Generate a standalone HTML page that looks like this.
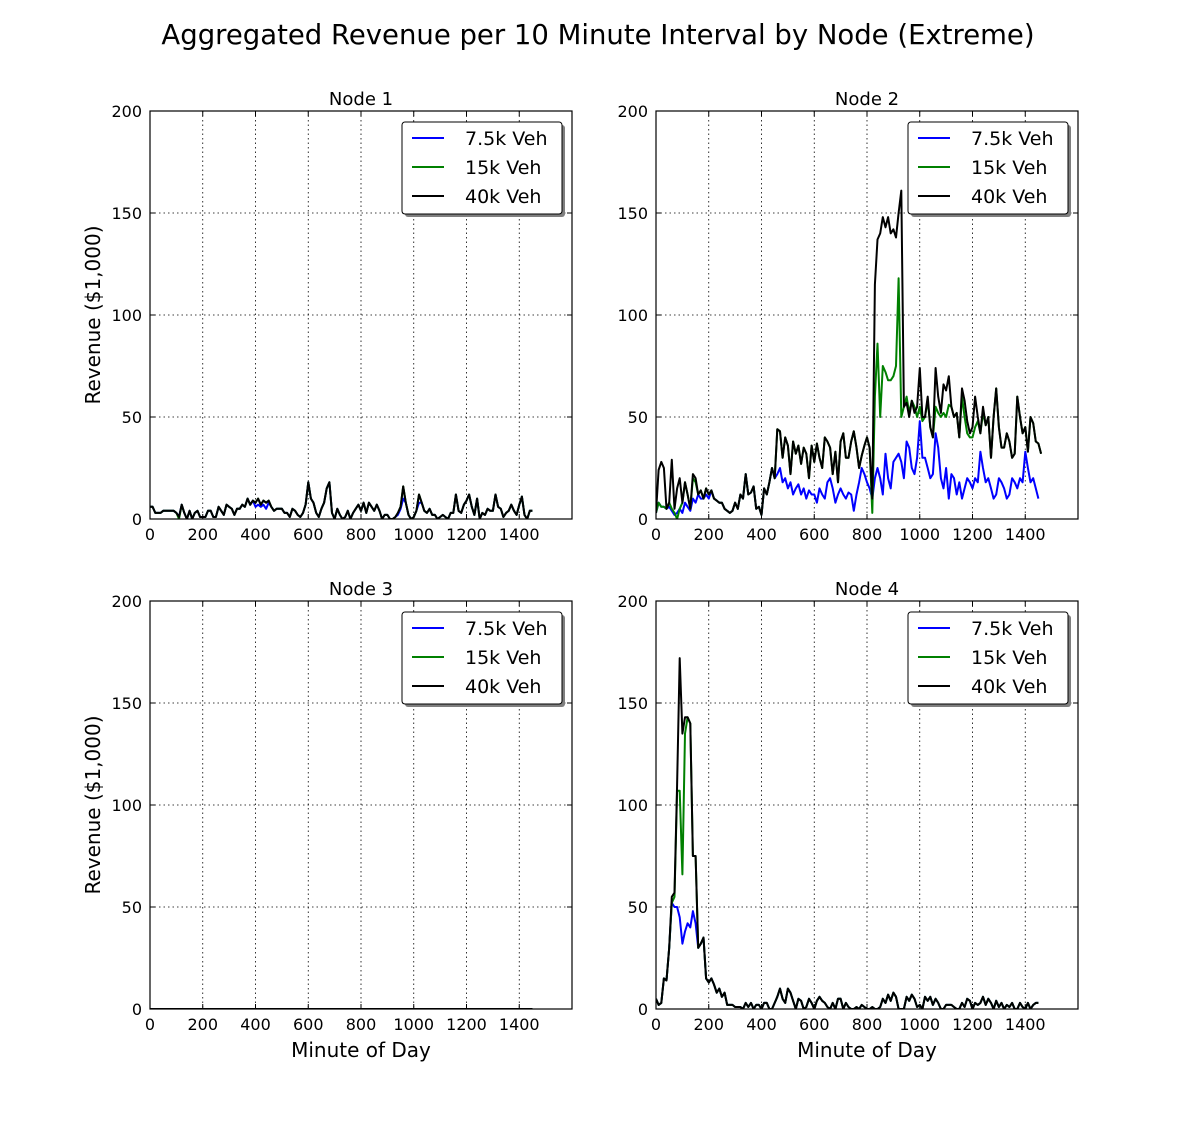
<!DOCTYPE html>
<html><head><meta charset="utf-8">
<style>
html,body{margin:0;padding:0;background:#fff;}
svg{display:block;font-family:"DejaVu Sans","Liberation Sans",sans-serif;}
</style></head>
<body>
<svg id="fig" width="1197" height="1122" viewBox="0 0 1197 1122">
<text x="598" y="44" font-size="27.5" text-anchor="middle">Aggregated Revenue per 10 Minute Interval by Node (Extreme)</text>
</svg>
<script>
const xTicks=[0,200,400,600,800,1000,1200,1400];
const yTicks=[0,50,100,150,200];
const seriesNames=["7.5k Veh","15k Veh","40k Veh"];
const seriesColors=["#0000ff","#008000","#000000"];
const nodeTitles=["Node 1","Node 2","Node 3","Node 4"];

const n1_40k=[6,6,3,3,3,4,4,4,4,4, 3,1,7,3,0,4,0,3,4,1, 1,1,4,4,1,1,6,4,2,7, 6,5,2,5,5,7,6,10,7,9, 8,10,7,9,8,9,6,4,5,5, 5,3,3,1,5,4,2,1,3,7, 18,10,8,3,1,5,8,15,18,3, 0,5,2,0,1,4,0,3,5,7, 4,8,3,8,6,4,7,4,0,2, 2,0,0,1,3,6,16,8,2,0, 1,4,12,8,4,3,5,2,2,0, 1,2,1,0,3,3,12,4,3,7, 9,12,6,2,10,0,3,2,5,4, 4,12,6,5,1,3,4,7,4,2, 7,11,2,0,4,4];
const n1_15k=[6,6,3,3,3,4,4,4,4,4, 3,0,7,3,0,4,0,3,4,1, 1,1,4,4,1,1,6,4,2,7, 6,5,2,5,5,7,6,10,7,9, 8,10,7,9,8,9,6,4,5,5, 5,3,3,1,5,4,2,1,3,7, 18,10,8,3,1,5,8,15,18,3, 0,5,2,0,1,4,0,3,5,7, 4,8,3,8,6,4,7,4,0,2, 2,0,0,1,3,6,16,8,2,0, 1,4,12,8,4,3,5,2,2,0, 1,2,1,0,3,3,12,4,3,7, 9,12,6,2,10,0,3,2,5,4, 4,12,6,5,1,3,4,7,4,2, 7,11,2,0,4,4];
const n1_7k=[6,6,3,3,3,4,4,4,4,4, 3,1,7,3,0,4,0,3,4,1, 1,1,4,4,1,1,6,4,2,7, 6,5,2,5,5,7,6,10,7,9, 6,7,6,7,5,8,6,4,5,5, 5,3,3,1,5,4,2,1,3,7, 18,10,8,3,1,5,8,15,18,3, 0,5,2,0,1,4,0,3,5,7, 4,8,3,8,6,4,7,4,0,2, 2,0,0,1,2,5,10,8,2,0, 1,4,8,8,4,3,5,2,2,0, 1,2,1,0,3,3,12,4,3,7, 9,12,6,2,10,0,3,2,5,4, 4,12,6,5,1,3,4,7,4,2, 7,11,2,0,4,4];

const n2_40k=[3,24,28,25,5,8,29,5,15,20,8,18,12,5,22,20,12,14,10,15,12,14,10,9,8,8,5,4,3,4,8,5,12,10,22,12,13,16,5,6,2,15,12,18,25,20,44,43,30,40,36,22,38,32,36,27,35,32,20,36,28,37,30,25,40,38,35,22,33,18,38,42,30,30,38,43,35,25,31,36,40,35,10,115,137,140,148,143,148,140,142,138,150,161,55,57,50,58,52,55,74,50,50,60,45,40,74,60,52,66,63,70,55,50,52,40,64,58,48,42,45,60,50,42,55,46,50,30,50,64,45,35,35,42,38,30,32,60,50,42,45,33,50,47,38,37,32];
const n2_15k=[3,8,6,6,5,8,5,3,0,5,8,18,12,5,20,18,12,14,10,15,12,14,10,9,8,8,5,4,3,4,8,5,12,10,22,12,13,16,5,6,2,15,12,18,25,20,44,43,30,40,36,22,38,32,36,27,35,32,20,36,28,37,30,25,40,38,35,22,33,18,38,42,30,30,38,43,35,25,31,36,40,35,3,60,86,50,75,72,68,68,70,75,118,50,55,60,52,58,55,50,55,48,50,58,45,40,55,52,50,52,50,56,55,50,52,40,60,50,42,40,40,45,48,42,52,46,50,30,50,64,45,35,35,42,38,30,32,60,50,42,45,33,50,47,38,37,32];
const n2_7k=[3,8,6,6,5,6,4,2,3,5,3,8,6,4,10,8,12,10,10,12,10,14,10,9,8,8,5,4,3,4,8,5,12,10,22,12,13,16,5,6,2,15,12,18,25,20,22,25,18,20,15,18,12,15,17,12,15,10,14,12,12,8,15,12,10,18,20,15,8,12,15,12,10,13,12,4,12,18,25,22,18,15,10,20,25,20,12,32,20,15,28,30,32,28,20,38,35,25,22,30,48,30,30,25,20,22,42,35,20,15,25,10,22,20,12,18,10,15,20,18,15,20,18,33,25,18,20,15,10,12,20,18,15,10,12,20,18,15,20,18,33,25,18,20,15,10];

const n3_40k=new Array(146).fill(0);
const n3_15k=new Array(146).fill(0);
const n3_7k=new Array(146).fill(0);

const n4_40k=[5,2,3,15,14,30,55,57,110,172,135,143,143,140,75,75,30,32,35,15,13,15,12,8,10,6,8,2,2,2,1,1,1,0,3,1,3,0,2,2,0,3,3,0,0,3,6,10,5,3,10,8,4,0,5,4,0,1,5,3,0,4,6,4,3,1,0,3,0,5,5,0,3,1,0,0,1,0,2,1,0,0,1,0,0,1,5,3,7,4,8,6,0,0,0,6,4,7,5,1,2,0,6,4,6,2,5,3,0,0,2,2,2,1,0,0,3,1,5,4,0,3,2,3,6,2,5,3,0,4,1,3,0,2,1,3,0,0,3,1,0,3,0,2,3,3];
const n4_15k=[5,2,3,15,14,30,52,55,107,107,66,135,143,140,75,75,30,32,35,15,13,15,12,8,10,6,8,2,2,2,1,1,1,0,3,1,3,0,2,2,0,3,3,0,0,3,6,10,5,3,10,8,4,0,5,4,0,1,5,3,0,4,6,4,3,1,0,3,0,5,5,0,3,1,0,0,1,0,2,1,0,0,1,0,0,1,5,3,7,4,8,6,0,0,0,6,4,7,5,1,2,0,6,4,6,2,5,3,0,0,2,2,2,1,0,0,3,1,5,4,0,3,2,3,6,2,5,3,0,4,1,3,0,2,1,3,0,0,3,1,0,3,0,2,3,3];
const n4_7k=[5,2,3,15,14,30,52,50,50,45,32,38,42,40,48,42,30,32,35,15,13,15,12,8,10,6,8,2,2,2,1,1,1,0,3,1,3,0,2,2,0,3,3,0,0,3,6,10,5,3,10,8,4,0,5,4,0,1,5,3,0,4,6,4,3,1,0,3,0,5,5,0,3,1,0,0,1,0,2,1,0,0,1,0,0,1,5,3,7,4,8,6,0,0,0,6,4,7,5,1,2,0,6,4,6,2,5,3,0,0,2,2,2,1,0,0,3,1,5,4,0,3,2,3,6,2,5,3,0,4,1,3,0,2,1,3,0,0,3,1,0,3,0,2,3,3];

const panelData=[[n1_7k,n1_15k,n1_40k],[n2_7k,n2_15k,n2_40k],[n3_7k,n3_15k,n3_40k],[n4_7k,n4_15k,n4_40k]];
const NS="http://www.w3.org/2000/svg";
const svg=document.getElementById('fig');
function mk(tag,attrs,parent){const e=document.createElementNS(NS,tag);for(const k in attrs)e.setAttribute(k,attrs[k]);(parent||svg).appendChild(e);return e;}
const boxes=[{x:150,y:111},{x:656,y:111},{x:150,y:601},{x:656,y:601}];
const W=422,H=408;
boxes.forEach((b,p)=>{
  const g=mk('g',{});
  
  
  const sx=v=>b.x+v/1600*W, sy=v=>b.y+H-v/200*H;
  xTicks.forEach(t=>{
    const gl=mk('line',{x1:sx(t),x2:sx(t),y1:b.y,y2:b.y+H,stroke:'#000','stroke-width':0.8,'stroke-dasharray':'1.5,3'},g);
    
    
    mk('line',{x1:sx(t),x2:sx(t),y1:b.y+H,y2:b.y+H-5,stroke:'#000'},g);
    mk('line',{x1:sx(t),x2:sx(t),y1:b.y,y2:b.y+5,stroke:'#000'},g);
    const tl=mk('text',{x:sx(t),y:b.y+H+21,'font-size':16,'text-anchor':'middle'},g);
    tl.textContent=t;
    
    
  });
  yTicks.forEach(t=>{
    const gl=mk('line',{x1:b.x,x2:b.x+W,y1:sy(t),y2:sy(t),stroke:'#000','stroke-width':0.8,'stroke-dasharray':'1.5,3'},g);
    
    
    mk('line',{x1:b.x,x2:b.x+5,y1:sy(t),y2:sy(t),stroke:'#000'},g);
    mk('line',{x1:b.x+W,x2:b.x+W-5,y1:sy(t),y2:sy(t),stroke:'#000'},g);
    const tl=mk('text',{x:b.x-8,y:sy(t)+6,'font-size':16,'text-anchor':'end'},g);
    tl.textContent=t;
    
    
  });
  const clip=mk('clipPath',{id:'c'+p},g);
  mk('rect',{x:b.x,y:b.y,width:W,height:H},clip);
  panelData[p].forEach((arr,s)=>{
    const pts=arr.map((v,i)=>sx(i*10).toFixed(1)+','+sy(v).toFixed(1)).join(' ');
    const pl=mk('polyline',{points:pts,fill:'none',stroke:seriesColors[s],'stroke-width':2,'stroke-linejoin':'round','clip-path':'url(#c'+p+')'},g);
    
    
  });
  const fr=mk('rect',{x:b.x,y:b.y,width:W,height:H,fill:'none',stroke:'#000','stroke-width':1.2},g);
  
  
  const tt=mk('text',{x:b.x+W/2,y:b.y-6,'font-size':18,'text-anchor':'middle'},g);
  tt.textContent=nodeTitles[p];
  
  
  const lg=mk('g',{},g);
  
  
  const lx=b.x+252,ly=b.y+11;
  mk('rect',{x:lx+3,y:ly+3,width:160,height:92,fill:'#7f7f7f',rx:3},lg);
  mk('rect',{x:lx,y:ly,width:160,height:92,fill:'#fff',stroke:'#000','stroke-width':1,rx:3},lg);
  seriesNames.forEach((nm,s)=>{
    const yy=ly+16+s*29;
    const ln=mk('line',{x1:lx+10,x2:lx+42,y1:yy,y2:yy,stroke:seriesColors[s],'stroke-width':2},lg);
    
    
    const tx=mk('text',{x:lx+63,y:yy+7,'font-size':19},lg);
    tx.textContent=nm;
    
    
  });
  if(p%2===0){
    const yl=mk('text',{x:0,y:0,'font-size':20,'text-anchor':'middle',transform:'translate(100,'+(b.y+H/2)+') rotate(-90)'},g);
    yl.textContent='Revenue ($1,000)';
    
    
  }
  if(p>=2){
    const xl=mk('text',{x:b.x+W/2,y:b.y+H+48,'font-size':20,'text-anchor':'middle'},g);
    xl.textContent='Minute of Day';
    
    
  }
});
</script>
</body></html>
